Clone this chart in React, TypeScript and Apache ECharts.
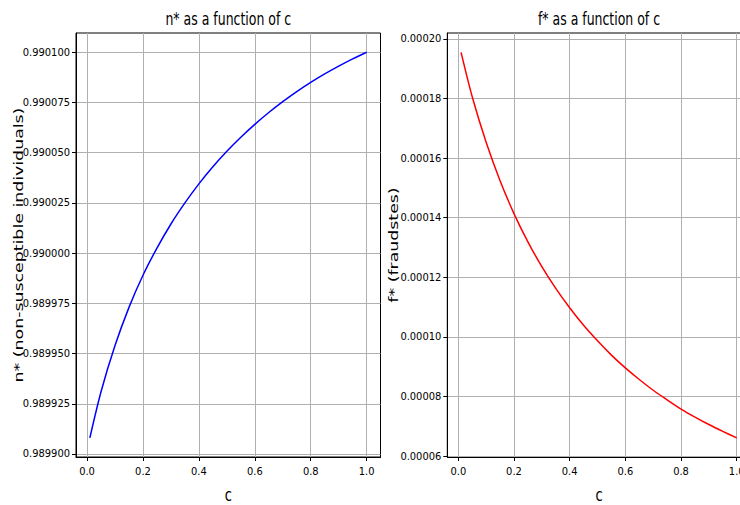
import React, { useEffect, useRef } from "react";
import * as echarts from "echarts";

const cValues = [0.01, 0.05, 0.1, 0.15, 0.2, 0.25, 0.3, 0.35, 0.4, 0.45, 0.5, 0.55, 0.6, 0.65, 0.7, 0.75, 0.8, 0.85, 0.9, 0.95, 1.0];
const nStar = [0.989908, 0.989931, 0.989954, 0.989973, 0.989989, 0.9900025, 0.9900145, 0.990025, 0.9900345, 0.990043, 0.9900507, 0.9900577, 0.9900641, 0.99007, 0.9900754, 0.9900804, 0.990085, 0.9900892, 0.9900931, 0.9900967, 0.9901];
const fStar = [0.0001955, 0.0001806, 0.0001653, 0.0001524, 0.0001414, 0.0001319, 0.0001236, 0.0001163, 0.0001098, 0.0001039, 0.0000987, 0.0000939, 0.0000896, 0.0000857, 0.0000821, 0.0000789, 0.0000758, 0.0000731, 0.0000706, 0.0000683, 0.0000661];
const xTicks = [0, 0.2, 0.4, 0.6, 0.8, 1.0];
const nTicks = [0.9899, 0.989925, 0.98995, 0.989975, 0.99, 0.990025, 0.99005, 0.990075, 0.9901];
const fTicks = [0.00006, 0.00008, 0.0001, 0.00012, 0.00014, 0.00016, 0.00018, 0.0002];
const titles = ["n* as a function of c", "f* as a function of c"];
const yNames = ["n* (non-susceptible individuals)", "f* (fraudstes)"];
const xName = "c";

const TICK_FONT = '"DejaVu Sans Condensed", "DejaVu Sans", sans-serif';
const LABEL_FONT = '"DejaVu Sans", sans-serif';

function makeX(gridIndex: number) {
  return {
    type: "value",
    gridIndex,
    min: -0.0395,
    max: 1.0495,
    axisLine: { show: true, onZero: false, lineStyle: { color: "#000", width: 1 } },
    axisTick: { show: true, inside: false, length: 4, customValues: xTicks, lineStyle: { color: "#000", width: 1 } },
    axisLabel: {
      customValues: xTicks,
      formatter: (v: number) => v.toFixed(1),
      margin: 9,
      fontSize: 11,
      fontFamily: TICK_FONT,
      color: "#000",
    },
    splitLine: { show: true, lineStyle: { color: "#b0b0b0", width: 1 } },
  };
}

function makeY(gridIndex: number, min: number, max: number, ticks: number[], digits: number) {
  return {
    type: "value",
    gridIndex,
    min,
    max,
    axisLine: { show: true, onZero: false, lineStyle: { color: "#000", width: 1 } },
    axisTick: { show: true, inside: false, length: 4, customValues: ticks, lineStyle: { color: "#000", width: 1 } },
    axisLabel: {
      customValues: ticks,
      formatter: (v: number) => v.toFixed(digits),
      margin: 6,
      fontSize: 11,
      fontFamily: TICK_FONT,
      color: "#000",
    },
    splitLine: { show: true, lineStyle: { color: "#b0b0b0", width: 1 } },
  };
}

export default function App() {
  const ref = useRef<HTMLDivElement>(null);
  useEffect(() => {
    if (!ref.current) return;
    const chart = echarts.init(ref.current, null, { renderer: "svg" });
    const option: any = {
      animation: false,
      backgroundColor: "#fff",
      grid: [
        { left: 76, top: 33, width: 304.5, height: 424, outerBoundsMode: "none", containLabel: false, show: true, borderColor: "#000", borderWidth: 1, backgroundColor: "transparent" },
        { left: 447.3, top: 33, width: 303.2, height: 424, outerBoundsMode: "none", containLabel: false, show: true, borderColor: "#000", borderWidth: 1, backgroundColor: "transparent" },
      ],
      xAxis: [makeX(0), makeX(1)],
      yAxis: [
        makeY(0, 0.9898985, 0.9901096, nTicks, 6),
        makeY(1, 0.0000597, 0.000202, fTicks, 5),
      ],
      series: [
        {
          type: "line",
          xAxisIndex: 0,
          yAxisIndex: 0,
          data: cValues.map((c, i) => [c, nStar[i]]),
          showSymbol: false,
          smooth: 0.3,
          lineStyle: { color: "#0000ff", width: 1.5 },
          itemStyle: { color: "#0000ff" },
        },
        {
          type: "line",
          xAxisIndex: 1,
          yAxisIndex: 1,
          data: cValues.map((c, i) => [c, fStar[i]]),
          showSymbol: false,
          smooth: 0.3,
          lineStyle: { color: "#ff0000", width: 1.5 },
          itemStyle: { color: "#ff0000" },
        },
      ],
      graphic: [
        { type: "text", x: 228.3, y: 19, scaleY: 1.4, style: { text: titles[0], fontSize: 12.5, fontFamily: LABEL_FONT, fill: "#000", align: "center", verticalAlign: "middle" } },
        { type: "text", x: 599, y: 19, scaleY: 1.4, style: { text: titles[1], fontSize: 12.5, fontFamily: LABEL_FONT, fill: "#000", align: "center", verticalAlign: "middle" } },
        { type: "text", x: 18.5, y: 245, rotation: Math.PI / 2, scaleX: 1.335, style: { text: yNames[0], fontSize: 13, fontFamily: LABEL_FONT, fill: "#000", align: "center", verticalAlign: "middle" } },
        { type: "text", x: 393.5, y: 245, rotation: Math.PI / 2, scaleX: 1.335, style: { text: yNames[1], fontSize: 13, fontFamily: LABEL_FONT, fill: "#000", align: "center", verticalAlign: "middle" } },
        { type: "text", x: 228.3, y: 495, scaleY: 1.35, style: { text: xName, fontSize: 13, fontFamily: LABEL_FONT, fill: "#000", align: "center", verticalAlign: "middle" } },
        { type: "text", x: 599, y: 495, scaleY: 1.35, style: { text: xName, fontSize: 13, fontFamily: LABEL_FONT, fill: "#000", align: "center", verticalAlign: "middle" } },
      ],
    };
    chart.setOption(option);
    return () => chart.dispose();
  }, []);
  return <div ref={ref} style={{ position: "absolute", left: 0, top: 0, width: 740, height: 505, overflow: "hidden" }} />;
}
